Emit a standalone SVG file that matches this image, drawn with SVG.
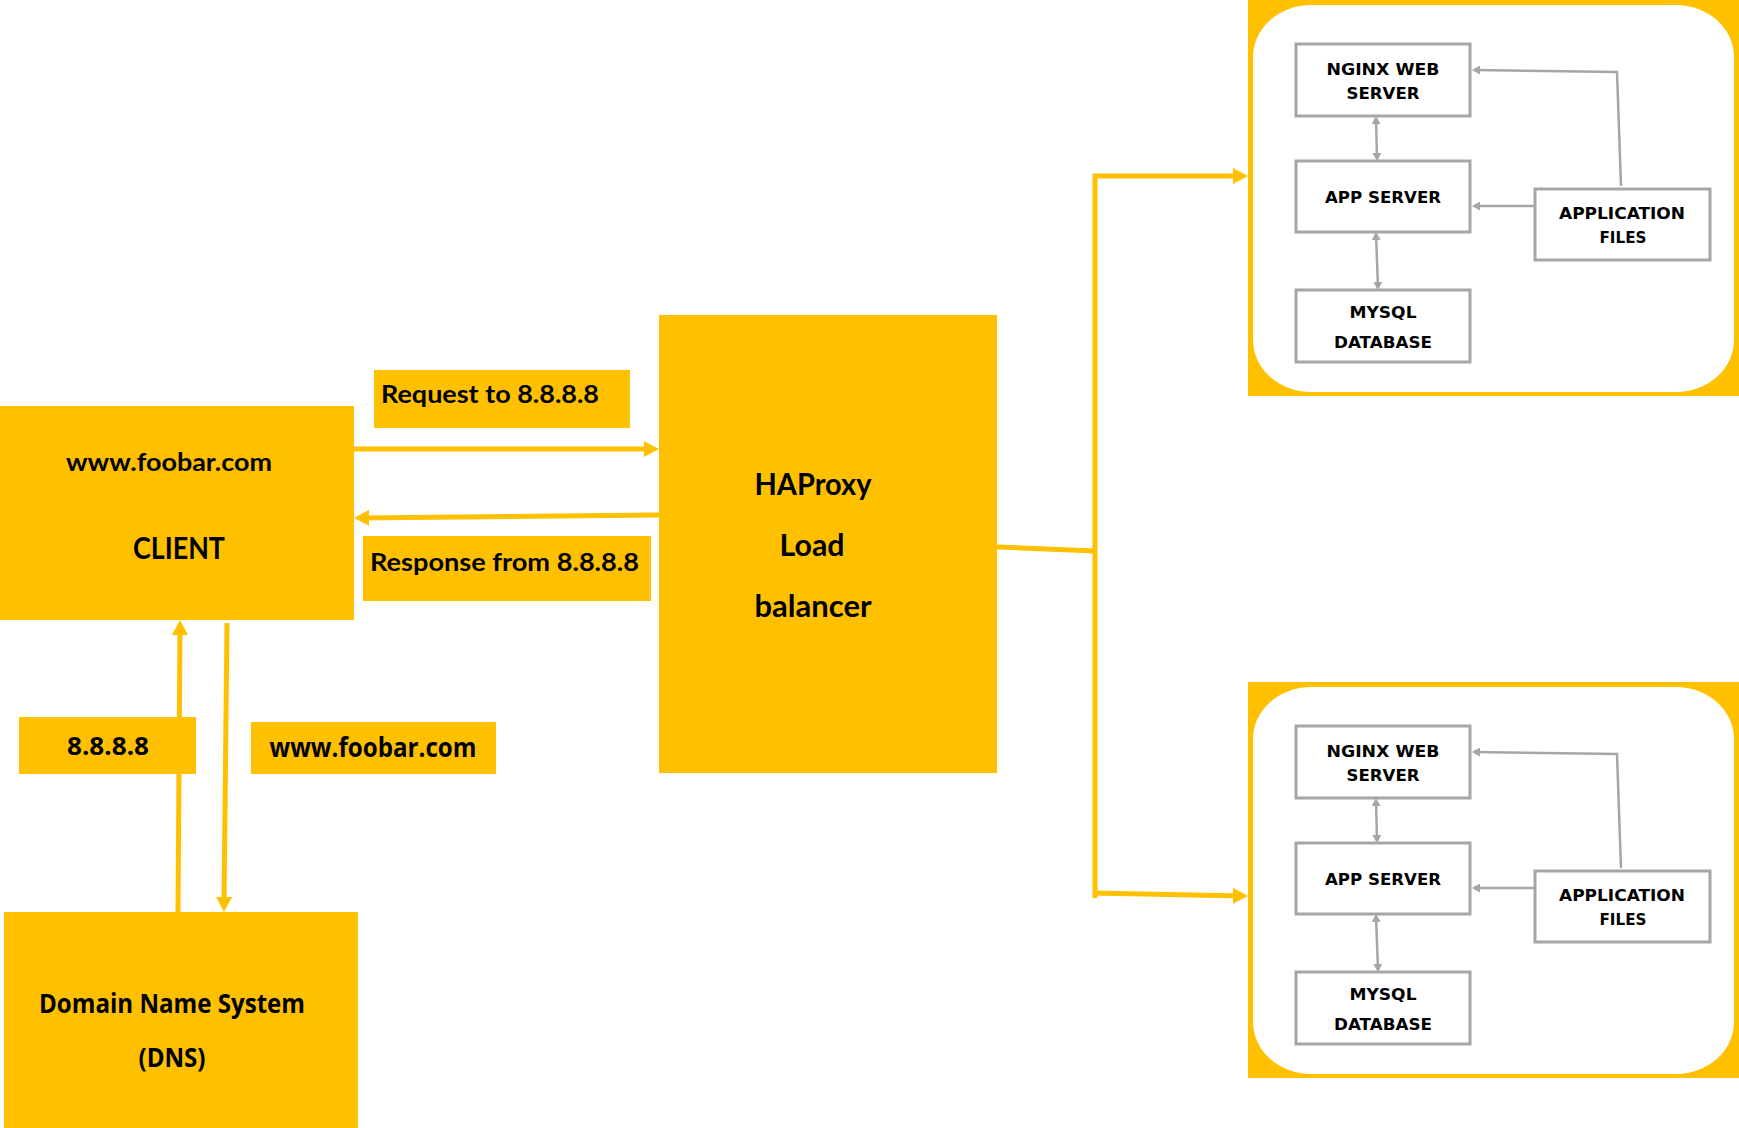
<svg xmlns="http://www.w3.org/2000/svg" width="1739" height="1128" viewBox="0 0 1739 1128">
<style>
.y{fill:#FFC000}
.cal{font-family:Lato,"Liberation Sans",sans-serif;font-weight:700;fill:#000}
.seg{font-family:"Open Sans","Liberation Sans",sans-serif;font-weight:700;fill:#000}
.box{fill:#fff;stroke:#A6A6A6;stroke-width:3}
.in{font-family:"DejaVu Sans","Liberation Sans",sans-serif;font-weight:700;font-size:16px;fill:#000;text-anchor:middle}
.yl{fill:none;stroke:#FFC000;stroke-width:5}
.gl{fill:none;stroke:#A6A6A6;stroke-width:2.5}
</style>
<defs>
<marker id="ya" markerUnits="userSpaceOnUse" markerWidth="16" markerHeight="16" refX="9" refY="8" orient="auto"><path d="M0,0 L15,8 L0,16 z" fill="#FFC000"/></marker>
<marker id="ga" markerUnits="userSpaceOnUse" markerWidth="9" markerHeight="9" refX="6" refY="4.5" orient="auto-start-reverse"><path d="M0,0 L8,4.5 L0,9 z" fill="#A6A6A6"/></marker>
</defs>

<g id="server-1-frame">
<rect x="1248" y="0" width="491" height="396" class="y"/>
<rect x="1253" y="5" width="481" height="387" rx="58" ry="52" fill="#fff"/>
</g>
<g id="server-2-frame">
<rect x="1248" y="682" width="491" height="396" class="y"/>
<rect x="1253" y="687" width="481" height="387" rx="58" ry="52" fill="#fff"/>
</g>

<g id="connectors">
<line class="yl" x1="354" y1="449" x2="653" y2="449" marker-end="url(#ya)"/>
<line class="yl" x1="659" y1="515" x2="360" y2="518" marker-end="url(#ya)"/>
<line class="yl" x1="178" y1="912" x2="180" y2="626" marker-end="url(#ya)"/>
<line class="yl" x1="227" y1="623" x2="224" y2="906" marker-end="url(#ya)"/>
<line class="yl" x1="997" y1="547" x2="1095" y2="551"/>
<line class="yl" x1="1095" y1="174" x2="1095" y2="898"/>
<line class="yl" x1="1093" y1="176" x2="1242" y2="176" marker-end="url(#ya)"/>
<line class="yl" x1="1093" y1="893" x2="1242" y2="896" marker-end="url(#ya)"/>
<path class="gl" d="M1376,118 L1377,159" marker-start="url(#ga)" marker-end="url(#ga)"/>
<path class="gl" d="M1376,234 L1378,288" marker-start="url(#ga)" marker-end="url(#ga)"/>
<path class="gl" d="M1535,206 L1474,206" marker-end="url(#ga)"/>
<path class="gl" d="M1621,186 L1617,72 L1474,70" marker-end="url(#ga)"/>
<path class="gl" d="M1376,800 L1377,841" marker-start="url(#ga)" marker-end="url(#ga)"/>
<path class="gl" d="M1376,916 L1378,970" marker-start="url(#ga)" marker-end="url(#ga)"/>
<path class="gl" d="M1535,888 L1474,888" marker-end="url(#ga)"/>
<path class="gl" d="M1621,868 L1617,754 L1474,752" marker-end="url(#ga)"/>
</g>

<g id="client">
<rect x="0" y="406" width="354" height="214" class="y"/>
<text class="cal" x="169" y="471" font-size="25" text-anchor="middle" textLength="206" lengthAdjust="spacingAndGlyphs">www.foobar.com</text>
<text class="cal" x="179" y="559" font-size="30" text-anchor="middle" textLength="92" lengthAdjust="spacingAndGlyphs">CLIENT</text>
</g>

<g id="request-label">
<rect x="374" y="370" width="256" height="58" class="y"/>
<text class="cal" x="381" y="403" font-size="24" textLength="218" lengthAdjust="spacingAndGlyphs">Request to 8.8.8.8</text>
</g>

<g id="response-label">
<rect x="363" y="536" width="288" height="65" class="y"/>
<text class="cal" x="370" y="571" font-size="25" textLength="269" lengthAdjust="spacingAndGlyphs">Response from 8.8.8.8</text>
</g>

<g id="haproxy">
<rect x="659" y="315" width="338" height="458" class="y"/>
<text class="cal" x="813" y="495" font-size="31" text-anchor="middle" textLength="117" lengthAdjust="spacingAndGlyphs">HAProxy</text>
<text class="cal" x="812" y="556" font-size="31" text-anchor="middle" textLength="65" lengthAdjust="spacingAndGlyphs">Load</text>
<text class="cal" x="813" y="617" font-size="31" text-anchor="middle" textLength="117" lengthAdjust="spacingAndGlyphs">balancer</text>
</g>

<g id="ip-label">
<rect x="19" y="717" width="177" height="57" class="y"/>
<text class="seg" x="108" y="755" font-size="25" text-anchor="middle" textLength="82" lengthAdjust="spacingAndGlyphs">8.8.8.8</text>
</g>

<g id="domain-label">
<rect x="251" y="722" width="245" height="52" class="y"/>
<text class="seg" x="373" y="757" font-size="26" text-anchor="middle" textLength="207" lengthAdjust="spacingAndGlyphs">www.foobar.com</text>
</g>

<g id="dns">
<rect x="4" y="912" width="354" height="216" class="y"/>
<text class="seg" x="172" y="1013" font-size="26" text-anchor="middle" textLength="266" lengthAdjust="spacingAndGlyphs">Domain Name System</text>
<text class="seg" x="172" y="1067" font-size="26" text-anchor="middle" textLength="67" lengthAdjust="spacingAndGlyphs">(DNS)</text>
</g>

<g id="nginx-1">
<rect x="1296" y="44" width="174" height="72" class="box"/>
<text class="in" x="1383" y="75" textLength="113" lengthAdjust="spacingAndGlyphs">NGINX WEB</text>
<text class="in" x="1383" y="99" textLength="73" lengthAdjust="spacingAndGlyphs">SERVER</text>
</g>
<g id="app-server-1">
<rect x="1296" y="161" width="174" height="71" class="box"/>
<text class="in" x="1383" y="203" textLength="116" lengthAdjust="spacingAndGlyphs">APP SERVER</text>
</g>
<g id="mysql-1">
<rect x="1296" y="290" width="174" height="72" class="box"/>
<text class="in" x="1383" y="318" textLength="67" lengthAdjust="spacingAndGlyphs">MYSQL</text>
<text class="in" x="1383" y="348" textLength="98" lengthAdjust="spacingAndGlyphs">DATABASE</text>
</g>
<g id="app-files-1">
<rect x="1535" y="189" width="175" height="71" class="box"/>
<text class="in" x="1622" y="219" textLength="126" lengthAdjust="spacingAndGlyphs">APPLICATION</text>
<text class="in" x="1623" y="243" textLength="47" lengthAdjust="spacingAndGlyphs">FILES</text>
</g>

<g id="nginx-2">
<rect x="1296" y="726" width="174" height="72" class="box"/>
<text class="in" x="1383" y="757" textLength="113" lengthAdjust="spacingAndGlyphs">NGINX WEB</text>
<text class="in" x="1383" y="781" textLength="73" lengthAdjust="spacingAndGlyphs">SERVER</text>
</g>
<g id="app-server-2">
<rect x="1296" y="843" width="174" height="71" class="box"/>
<text class="in" x="1383" y="885" textLength="116" lengthAdjust="spacingAndGlyphs">APP SERVER</text>
</g>
<g id="mysql-2">
<rect x="1296" y="972" width="174" height="72" class="box"/>
<text class="in" x="1383" y="1000" textLength="67" lengthAdjust="spacingAndGlyphs">MYSQL</text>
<text class="in" x="1383" y="1030" textLength="98" lengthAdjust="spacingAndGlyphs">DATABASE</text>
</g>
<g id="app-files-2">
<rect x="1535" y="871" width="175" height="71" class="box"/>
<text class="in" x="1622" y="901" textLength="126" lengthAdjust="spacingAndGlyphs">APPLICATION</text>
<text class="in" x="1623" y="925" textLength="47" lengthAdjust="spacingAndGlyphs">FILES</text>
</g>
</svg>
